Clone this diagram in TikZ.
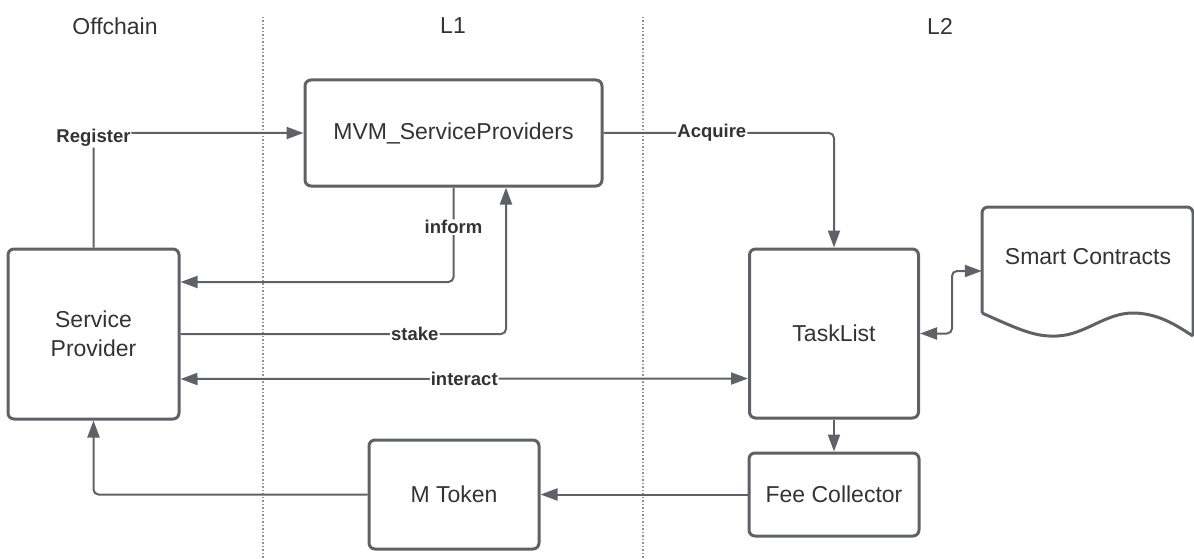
\documentclass[tikz,border=0pt]{standalone}
\usepackage{fontspec}
\setmainfont{Liberation Sans}
\usepackage{tikz}
\usetikzlibrary{arrows.meta, calc}

\definecolor{edge}{RGB}{94,98,102}
\definecolor{ink}{RGB}{51,51,51}

\begin{document}
\begin{tikzpicture}[
    x = 1pt, y = -1pt,
    >={Triangle[length = 17pt, width = 12pt]},
    block/.style = {rectangle,
      draw = edge,
      line width = 3pt,
      rounded corners = 6pt,
      text = ink,
      align = center,
      font = \fontsize{23}{29}\selectfont},
    link/.style = {draw = edge, line width = 2pt, rounded corners = 5pt},
    tag/.style = {fill = white, text = ink, inner sep = 1pt,
      font = \fontsize{18.5}{22}\selectfont\bfseries},
    heading/.style = {text = ink, font = \fontsize{23}{28}\selectfont},
    lane/.style = {draw = gray!85, line width = 1.5pt, dotted}
    ]
    \useasboundingbox (0, 0) rectangle (1194, 559);

    % lanes
    \node at (115, 26) [heading, name = offchain] {Offchain};
    \node at (453, 26) [heading, name = layerone] {L1};
    \node at (940, 26) [heading, name = layertwo] {L2};
    \draw [lane] (263, 17) -- (263, 559);
    \draw [lane] (643, 17) -- (643, 559);

    \node at (453.5, 133) [block, name = mvm,
      minimum width = 297pt, minimum height = 106pt] {MVM\_ServiceProviders};
    \node at (93.5, 334) [block, name = provider,
      minimum width = 171pt, minimum height = 170pt] {Service\\Provider};
    \node at (834, 333.5) [block, name = tasklist,
      minimum width = 169pt, minimum height = 169pt] {TaskList};
    \node at (454, 494.5) [block, name = token,
      minimum width = 170pt, minimum height = 109pt] {M Token};
    \node at (834, 494.5) [block, name = fee,
      minimum width = 170pt, minimum height = 83pt] {Fee Collector};

    % document shape
    \node at (1087.5, 271) [name = contracts,
      minimum width = 211pt, minimum height = 128pt] {};
    \node at (1088, 257) [heading, name = contractsname] {Smart Contracts};
    \draw [edge, line width = 3pt, rounded corners = 6pt]
    (982, 313) -- (982, 207) -- (1193, 207) -- (1193, 336);
    \draw [edge, line width = 3pt]
    (982, 313) .. controls (1020, 330) and (1035, 337) .. (1057, 336)
    .. controls (1085, 335) and (1105, 313) .. (1133, 313)
    .. controls (1160, 313) and (1180, 328) .. (1193, 336);

    \draw [link, ->] (provider.north) |-
    node [tag, pos = 0.5, yshift = -5pt] {Register} (mvm.west);
    \draw [link, ->] (mvm.east) -|
    node [tag, pos = 0.235] {Acquire} (tasklist.north);
    \draw [link, ->] (mvm.south) |-
    node [tag, pos = 0.21] {inform} ([yshift = 52pt]provider.east);
    \draw [link, ->] (provider.east) -|
    node [tag, pos = 0.36] {stake} ([xshift = 52.5pt]mvm.south);
    \draw [link, <->] ([yshift = -45pt]provider.east) to
    node [tag] {interact} ([yshift = -45pt]tasklist.west);

    \draw [link, <->] (tasklist.east) -- ++(32, 0) |- (contracts.west);
    \draw [link, ->] (tasklist.south) to (fee.north);
    \draw [link, ->] (fee.west) to (token.east);
    \draw [link, ->] (token.west) -| (provider.south);

  \end{tikzpicture}
\end{document}
